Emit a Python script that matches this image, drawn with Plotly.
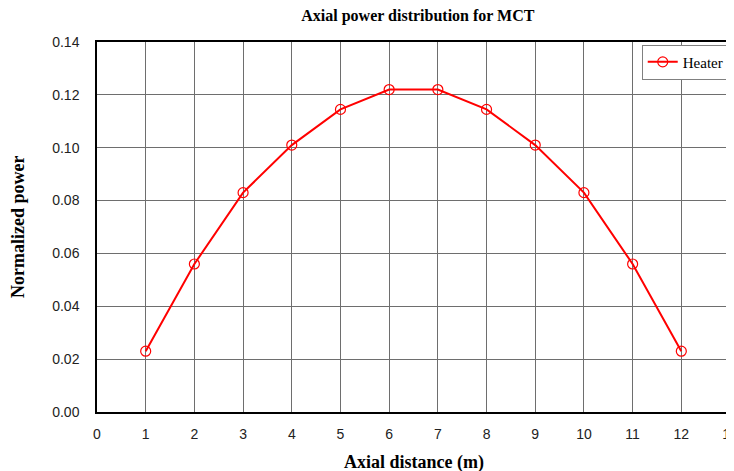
import plotly.graph_objects as go

axial_distance = [1, 2, 3, 4, 5, 6, 7, 8, 9, 10, 11, 12]
heater_power = [0.023, 0.056, 0.083, 0.101, 0.1145, 0.122, 0.122, 0.1145, 0.101, 0.083, 0.056, 0.023]
x_ticks = list(range(0, 14))
y_ticks = [0.00, 0.02, 0.04, 0.06, 0.08, 0.10, 0.12, 0.14]

# page body has an 8px default margin, so the figure is offset by 8px
OFF = 8
W, H = 734 - OFF, 471 - OFF
L, R, T, B = 97 - OFF, 4, 42 - OFF, 59

fig = go.Figure()
fig.add_trace(go.Scatter(
    x=axial_distance, y=heater_power, name="Heater",
    mode="lines+markers",
    line=dict(color="#ff0000", width=2),
    marker=dict(symbol="circle-open", size=10, color="#ff0000", line=dict(width=1.2)),
))

fig.update_layout(
    width=W, height=H,
    margin=dict(l=L, r=R, t=T, b=B, autoexpand=False),
    paper_bgcolor="white", plot_bgcolor="white",
    title=dict(text="<b>Axial power distribution for MCT</b>", x=(L + (W - R)) / 2 / W + 0.006,
               xanchor="center", yref="container", y=1 - (15 - OFF) / H, yanchor="middle",
               font=dict(family="Liberation Serif", size=16, color="black")),
    showlegend=True,
    legend=dict(x=0.998, y=0.993, xanchor="right", yanchor="top",
                bgcolor="white", bordercolor="#808080", borderwidth=1,
                font=dict(family="Liberation Serif", size=15, color="black"),
                itemwidth=30, tracegroupgap=0),
    xaxis=dict(range=[0, 13], tickvals=x_ticks, ticks="", showgrid=True,
               gridcolor="#6e6e6e", gridwidth=1, showline=True, linecolor="black",
               linewidth=1.5, mirror=True, zeroline=False, automargin=False,
               ticklabelstandoff=8, ticklabeloverflow="allow",
               tickfont=dict(family="Liberation Sans", size=14, color="#222222")),
    yaxis=dict(range=[0, 0.14], tickvals=y_ticks, tickformat=".2f", ticks="",
               showgrid=True, gridcolor="#6e6e6e", gridwidth=1, showline=True,
               linecolor="black", linewidth=1.5, mirror=True, zeroline=False,
               automargin=False, ticklabelstandoff=13,
               tickfont=dict(family="Liberation Sans", size=14, color="#222222")),
    annotations=[
        dict(text="<b>Axial distance (m)</b>", xref="paper", yref="paper",
             x=0.5, y=-(462 - (471 - B)) / (H - T - B), xanchor="center", yanchor="middle",
             showarrow=False, font=dict(family="Liberation Serif", size=18, color="black")),
        dict(text="<b>Normalized power</b>", xref="paper", yref="paper",
             x=-(97 - 18) / (W - L - R), y=0.5, xanchor="center", yanchor="middle",
             textangle=-90, showarrow=False,
             font=dict(family="Liberation Serif", size=18, color="black")),
    ],
)

fig.write_html("out.html")
